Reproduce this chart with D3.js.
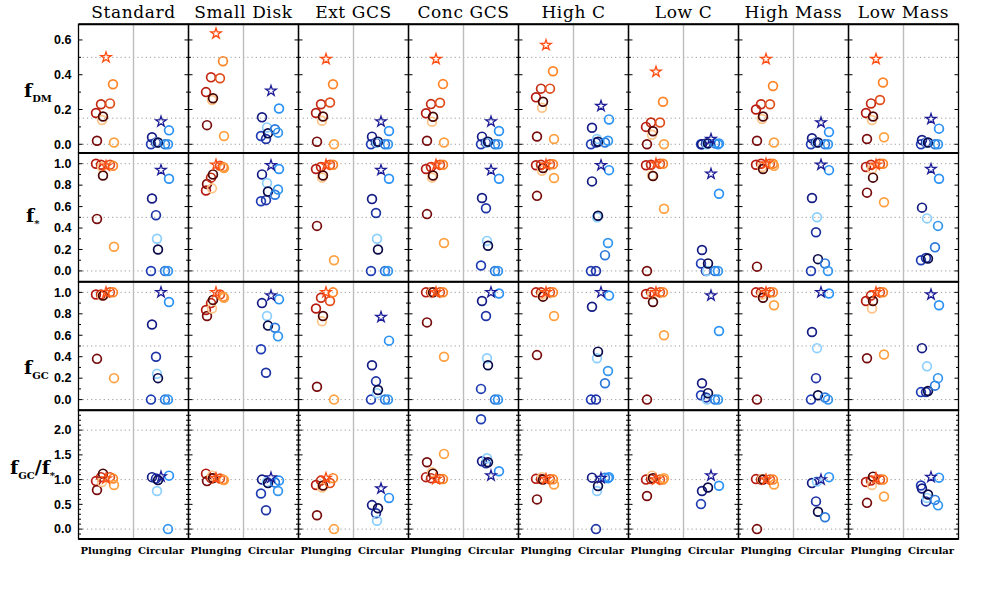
<!DOCTYPE html>
<html><head><meta charset="utf-8">
<script src="https://cdn.jsdelivr.net/npm/d3@7"></script>
<style>body{margin:0;background:#fff}</style>
</head><body><svg id="c" width="981" height="589"></svg>
<script>
// ---------------- DATA ----------------
const models = ["Standard","Small Disk","Ext GCS","Conc GCS","High C","Low C","High Mass","Low Mass"];
const orbits = ["Plunging","Circular"];
const metrics = ["fDM","fStar","fGC","ratio"];
const gcIds = [0,1,2,3,4,5,6,7];
// per-GC horizontal jitter (abstract units, -1..1)
const gcJitter = [-1.0,-0.9,-0.5,-0.4,-0.3,0.4,0.7,0.8];

const yDomains = [[-0.05,0.69],[-0.1,1.1],[-0.1,1.1],[-0.2,2.4]];
const yMajor = [[0,0.2,0.4,0.6],[0,0.2,0.4,0.6,0.8,1.0],[0,0.2,0.4,0.6,0.8,1.0],[0,0.5,1.0,1.5,2.0]];
const yMinorStep = [0.1,0.1,0.1,0.1];
const yGrid = [[0,0.15,0.5],[0,0.5,1.0],[0,0.5,1.0],[0,1,2]];

// f_DM
const fDM_plunging = [
 [0.18,0.02,0.23,0.14,0.16,0.235,0.345,0.01],
 [0.30,0.11,0.385,0.255,0.265,0.38,0.478,0.048],
 [0.18,0.015,0.23,0.135,0.16,0.24,0.345,0.0],
 [0.178,0.02,0.231,0.13,0.158,0.239,0.346,0.01],
 [0.27,0.045,0.32,0.21,0.245,0.32,0.42,0.03],
 [0.10,0.0,0.125,0.055,0.075,0.125,0.245,0.0],
 [0.20,0.02,0.23,0.145,0.16,0.23,0.335,0.01],
 [0.18,0.03,0.235,0.14,0.16,0.255,0.355,0.04]];
const fDM_circular = [
 [0.0,0.04,0.01,0.01,0.01,0.0,0.0,0.08],
 [0.048,0.155,0.03,0.097,0.063,0.086,0.067,0.206],
 [0.0,0.044,0.01,0.01,0.015,0.0,0.0,0.076],
 [0.0,0.044,0.01,0.01,0.015,0.0,0.0,0.076],
 [0.0,0.095,0.01,0.03,0.015,0.01,0.02,0.143],
 [0.0,0.0,0.005,0.0,0.005,0.005,0.0,0.005],
 [0.0,0.035,0.01,0.01,0.01,0.0,0.0,0.07],
 [0.0,0.025,0.01,0.01,0.01,0.0,0.0,0.09]];
const fDM_starP = [0.50,0.637,0.49,0.49,0.57,0.417,0.49,0.49];
const fDM_starC = [0.13,0.307,0.13,0.13,0.22,0.03,0.125,0.145];

// f_*
const fStar_plunging = [
 [1.0,0.485,0.99,0.97,0.89,0.99,0.98,0.225],
 [0.75,0.81,0.87,0.77,0.90,0.98,0.97,0.96],
 [0.95,0.42,0.97,0.87,0.89,0.99,0.99,0.10],
 [0.95,0.53,0.97,0.87,0.89,0.99,0.99,0.26],
 [0.985,0.70,0.99,0.935,0.96,0.995,0.995,0.866],
 [0.985,0.0,0.99,0.89,0.885,1.0,1.0,0.58],
 [0.99,0.04,1.0,0.97,0.95,1.0,1.0,0.98],
 [0.97,0.73,0.99,0.95,0.87,1.0,1.0,0.64]];
const fStar_circular = [
 [0.0,0.675,0.52,0.30,0.20,0.0,0.0,0.86],
 [0.65,0.90,0.66,0.82,0.74,0.71,0.76,0.95],
 [0.0,0.67,0.54,0.30,0.20,0.0,0.0,0.86],
 [0.05,0.68,0.585,0.28,0.235,0.0,0.0,0.86],
 [0.0,0.835,0.0,0.50,0.515,0.147,0.26,0.94],
 [0.07,0.195,0.0,0.0,0.07,0.0,0.0,0.72],
 [0.0,0.68,0.36,0.50,0.11,0.07,0.0,0.94],
 [0.10,0.59,0.12,0.49,0.115,0.22,0.42,0.86]];
const fStar_starP = [0.98,0.99,0.99,0.99,0.99,1.0,1.0,0.99];
const fStar_starC = [0.94,0.985,0.94,0.94,0.985,0.905,0.99,0.95];

// f_GC
const fGC_plunging = [
 [0.98,0.38,0.98,0.97,0.97,1.0,1.0,0.20],
 [0.835,0.78,0.90,0.85,0.93,0.98,0.96,0.95],
 [0.85,0.12,0.95,0.73,0.78,0.92,1.0,0.0],
 [1.0,0.72,1.0,1.0,1.0,1.0,1.0,0.40],
 [1.0,0.415,1.0,0.98,0.96,1.0,1.0,0.78],
 [0.985,0.0,1.0,0.98,0.91,1.0,1.0,0.60],
 [1.0,0.0,1.0,0.98,0.95,1.0,1.0,0.88],
 [0.92,0.385,0.97,0.85,0.92,1.0,1.0,0.42]];
const fGC_circular = [
 [0.0,0.70,0.40,0.24,0.20,0.0,0.0,0.91],
 [0.47,0.90,0.25,0.78,0.69,0.67,0.59,0.935],
 [0.0,0.32,0.17,0.06,0.09,0.0,0.0,0.55],
 [0.10,0.92,0.78,0.385,0.32,0.0,0.0,0.99],
 [0.0,0.866,0.0,0.385,0.447,0.153,0.267,0.97],
 [0.04,0.153,0.02,0.0,0.06,0.0,0.0,0.64],
 [0.0,0.63,0.20,0.48,0.04,0.02,0.0,0.99],
 [0.07,0.48,0.07,0.31,0.08,0.13,0.20,0.88]];
const fGC_starP = [1.0,1.0,1.0,1.0,1.0,1.0,1.0,1.0];
const fGC_starC = [1.0,0.97,0.77,1.0,1.0,0.97,1.0,0.98];

// f_GC / f_*
const ratio_plunging = [
 [0.97,0.79,1.05,0.95,1.12,1.05,1.02,0.89],
 [1.12,0.97,1.03,1.08,1.03,1.02,1.0,0.99],
 [0.89,0.28,0.98,0.84,0.88,0.93,1.03,0.0],
 [1.05,1.35,1.03,1.15,1.12,1.01,1.01,1.52],
 [1.015,0.60,1.01,1.05,1.0,1.005,1.005,0.90],
 [1.0,0.67,1.01,1.08,1.03,1.0,1.0,1.03],
 [1.01,0.0,1.0,1.01,1.0,1.0,1.0,0.90],
 [0.95,0.53,0.98,0.89,1.06,1.0,1.0,0.66]];
const ratio_circular = [
 [null,1.05,1.02,0.77,0.99,null,0.0,1.08],
 [0.72,1.0,0.38,0.95,0.93,0.94,0.77,0.98],
 [null,0.485,0.32,0.17,0.42,null,null,0.63],
 [2.22,1.37,1.33,1.43,1.35,null,null,1.17],
 [null,1.04,0.0,0.77,0.87,1.04,1.03,1.05],
 [0.505,0.77,null,null,0.84,null,null,0.875],
 [null,0.93,0.56,0.96,0.35,0.24,null,1.05],
 [0.88,0.82,0.56,0.63,0.7,0.59,0.48,1.04]];
const ratio_starP = [1.02,1.03,1.03,1.01,1.01,1.0,1.0,1.03];
const ratio_starC = [1.06,1.04,0.82,1.08,1.03,1.08,1.0,1.05];

// ---------------- STYLE ----------------
const plungeColors = ["#b4180e","#780c0c","#c42a12","#ffc588","#4a0606","#e04e1c","#ff8426","#ffa040"];
const circColors   = ["#1e3cb4","#141c84","#1f34a4","#8ccfff","#0a0a48","#2a78dc","#3296f0","#2a92f6"];
const starColor = {Plunging:"#ff4e14", Circular:"#1c1c96"};

const seriesTable = [
  {P:fDM_plunging, C:fDM_circular, sP:fDM_starP, sC:fDM_starC},
  {P:fStar_plunging, C:fStar_circular, sP:fStar_starP, sC:fStar_starC},
  {P:fGC_plunging, C:fGC_circular, sP:fGC_starP, sC:fGC_starC},
  {P:ratio_plunging, C:ratio_circular, sP:ratio_starP, sC:ratio_starC}];

// ---------------- LAYOUT ----------------
const svg = d3.select("#c");
const colScale = d3.scaleBand().domain(models).range([78.5,958.5]).paddingInner(0).paddingOuter(0);
const rowScale = d3.scaleBand().domain(metrics).range([24.3,539]);
const orbitScale = d3.scaleBand().domain(orbits).range([0,colScale.bandwidth()]);
const jitterScale = d3.scaleLinear().domain([-1,1]).range([-10,10]);

const serif = "'DejaVu Serif', serif";
const sans = "'Liberation Sans', Arial, sans-serif";

metrics.forEach((m,ri)=>{
  const y0 = rowScale(m), h = rowScale.bandwidth();
  const y = d3.scaleLinear().domain(yDomains[ri]).range([y0+h, y0]);
  const ser = seriesTable[ri];
  models.forEach((mod,ci)=>{
    const x0 = colScale(mod), w = colScale.bandwidth();
    const g = svg.append("g");
    // dotted grid
    yGrid[ri].forEach(v=>{
      g.append("line").attr("x1",x0).attr("x2",x0+w).attr("y1",y(v)).attr("y2",y(v))
        .attr("stroke","#9a9a9a").attr("stroke-width",1).attr("stroke-dasharray","1.2,3");
    });
    // divider
    g.append("line").attr("x1",x0+orbitScale("Circular")).attr("x2",x0+orbitScale("Circular"))
      .attr("y1",y0).attr("y2",y0+h).attr("stroke","#bdbdbd").attr("stroke-width",1.4);
    // ticks
    const [d0,d1] = yDomains[ri];
    const minors = d3.range(Math.ceil(d0/yMinorStep[ri]-1e-6)*yMinorStep[ri], d1+1e-9, yMinorStep[ri]);
    minors.forEach(v=>{
      const isMaj = yMajor[ri].some(t=>Math.abs(t-v)<1e-6);
      const L = isMaj?4:2.5;
      g.append("line").attr("x1",x0).attr("x2",x0+L).attr("y1",y(v)).attr("y2",y(v)).attr("stroke","#000").attr("stroke-width",1);
      g.append("line").attr("x1",x0+w).attr("x2",x0+w-L).attr("y1",y(v)).attr("y2",y(v)).attr("stroke","#000").attr("stroke-width",1);
    });
    // points
    orbits.forEach(o=>{
      const cx = x0 + orbitScale(o) + orbitScale.bandwidth()/2;
      const vals = (o==="Plunging"?ser.P:ser.C)[ci];
      const cols = o==="Plunging"?plungeColors:circColors;
      const pts = gcIds.map(i=>({i, v:vals[i]})).filter(d=>d.v!==null);
      g.selectAll(null).data(pts).enter().append("circle")
        .attr("cx",d=>cx+jitterScale(gcJitter[d.i])).attr("cy",d=>y(d.v)).attr("r",4.4)
        .attr("fill","none").attr("stroke",d=>cols[d.i]).attr("stroke-width",1.7);
      const sv = (o==="Plunging"?ser.sP:ser.sC)[ci];
      g.append("path").attr("d",d3.symbol().type(d3.symbolStar).size(34)())
        .attr("transform",`translate(${cx},${y(sv)})`)
        .attr("fill","none").attr("stroke",starColor[o]).attr("stroke-width",1.3);
    });
    // frame
    g.append("rect").attr("x",x0).attr("y",y0).attr("width",w).attr("height",h)
      .attr("fill","none").attr("stroke","#000").attr("stroke-width",1.3);
    // tick labels on first column
    if(ci===0){
      yMajor[ri].forEach(v=>{
        svg.append("text").attr("x",x0-7).attr("y",y(v)+4.3).attr("text-anchor","end")
          .attr("font-family",sans).attr("font-weight","bold").attr("font-size",12.5).text(d3.format(".1f")(v));
      });
    }
  });
  // thicker row separators
  svg.append("line").attr("x1",78.5).attr("x2",958.5).attr("y1",y0).attr("y2",y0).attr("stroke","#000").attr("stroke-width",2);
});
svg.append("line").attr("x1",78.5).attr("x2",958.5).attr("y1",539).attr("y2",539).attr("stroke","#000").attr("stroke-width",2);

// column titles
models.forEach(mod=>{
  svg.append("text").attr("x",colScale(mod)+colScale.bandwidth()/2).attr("y",18)
    .attr("text-anchor","middle").attr("font-family",serif).attr("font-size",17).attr("letter-spacing",0.6)
    .text(mod);
  orbits.forEach(o=>{
    svg.append("text").attr("x",colScale(mod)+orbitScale(o)+orbitScale.bandwidth()/2).attr("y",554)
      .attr("text-anchor","middle").attr("font-family",serif).attr("font-weight","bold").attr("font-size",10).text(o);
  });
});

// y labels
const yLabelParts = [
  [["f",0],["DM",1]],
  [["f",0],["*",1]],
  [["f",0],["GC",1]],
  [["f",0],["GC",1],["/f",0],["*",1]]];
const yLabelY = [97, 222, 374, 474];
const yLabelX = [24, 26, 24, 10];
yLabelParts.forEach((parts,ri)=>{
  const t = svg.append("text").attr("x",yLabelX[ri]).attr("y",yLabelY[ri])
    .attr("font-family",serif).attr("font-weight","bold");
  let prev = 0;
  parts.forEach(([s,sub])=>{
    const dy = (sub?5:0) - prev; prev = sub?5:0;
    t.append("tspan").attr("dy",dy).attr("font-size",sub?10:19).text(s);
  });
});
</script></body></html>
